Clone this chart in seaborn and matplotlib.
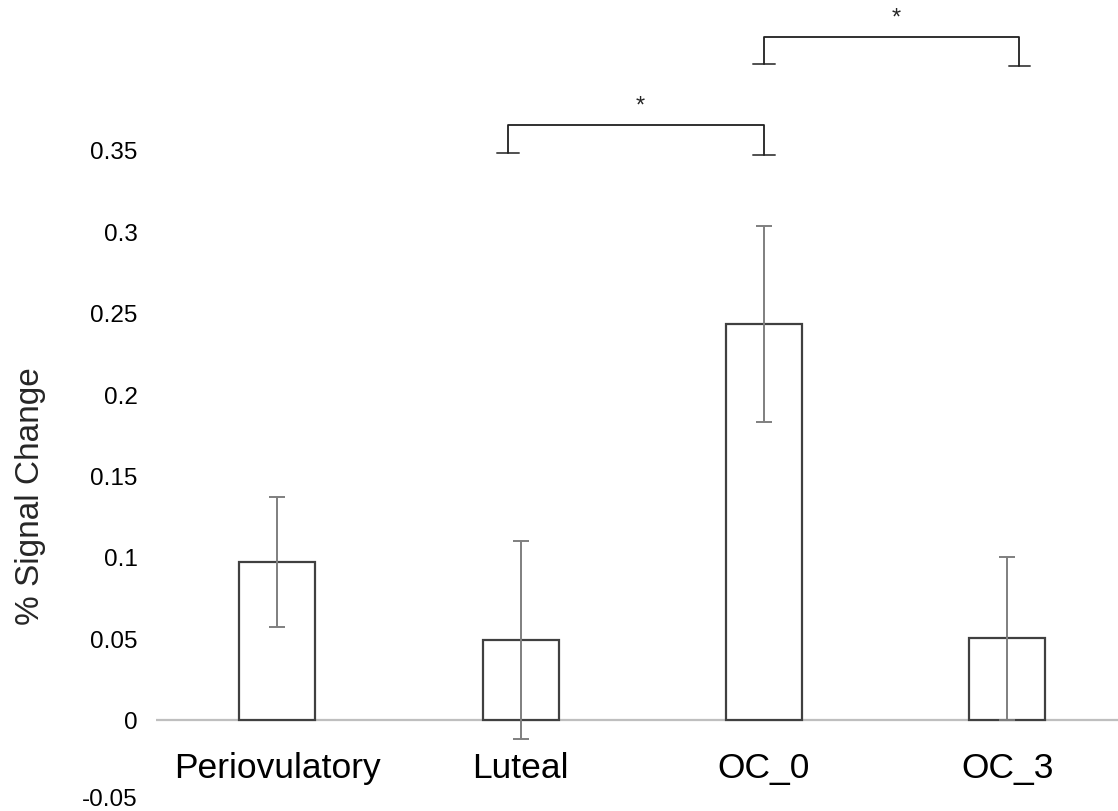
import matplotlib
matplotlib.use("Agg")
import matplotlib.pyplot as plt
import matplotlib.transforms as mtransforms
import seaborn as sns
import numpy as np
import pandas as pd

categories = ["Periovulatory", "Luteal", "OC_0", "OC_3"]
means = [0.097, 0.049, 0.243, 0.050]
errors = [0.040, 0.061, 0.060, 0.050]
yticks = [-0.05, 0, 0.05, 0.1, 0.15, 0.2, 0.25, 0.3, 0.35]
ytick_labels = ["-0.05", "0", "0.05", "0.1", "0.15", "0.2", "0.25", "0.3", "0.35"]
ylabel = "% Signal Change"

# significance brackets: (x_left, x_right, y_bar, y_foot_left, y_foot_right, y_star)
brackets = [
    (0.947, 2.0, 0.3654, 0.3483, 0.347, 0.377),
    (2.0, 3.05, 0.4196, 0.4028, 0.4016, 0.4316),
]
star_text = "*"

sns.set_theme(style="white")
plt.rcParams["font.family"] = ["Liberation Sans", "DejaVu Sans"]

fig = plt.figure(figsize=(11.18, 8.12), dpi=100)
ax = fig.add_axes([155.6 / 1118, (812 - 802) / 812, 973.4 / 1118, 802 / 812])

df = pd.DataFrame({"cat": categories, "val": means})
sns.barplot(data=df, x="cat", y="val", ax=ax, color="white", edgecolor="#404040",
            linewidth=1.6, width=0.312, errorbar=None, zorder=2)

ax.errorbar(np.arange(len(categories)), means, yerr=errors, fmt="none",
            ecolor="#7f7f7f", elinewidth=1.4, capsize=5.5, capthick=1.4, zorder=3)

ax.set_xlim(-0.5, 3.5)
ax.set_ylim(-0.05, 0.4427)
ax.set_yticks(yticks)
ax.set_yticklabels(ytick_labels)
ax.tick_params(axis="y", length=0, pad=13, labelsize=17.5, colors="#000000")
ax.tick_params(axis="x", length=0, pad=-36, labelsize=25.5, colors="#000000")
for s in ["top", "right", "left", "bottom"]:
    ax.spines[s].set_visible(False)
ax.axhline(0, color="#bfbfbf", linewidth=1.6, zorder=1, xmin=0, xmax=1)
ax.set_xlabel("")
ax.set_ylabel(ylabel, fontsize=24)
ax.yaxis.set_label_coords(-0.1126, 0.381)

# nudge the lowest tick label up so it stays inside the figure
lowest = ax.get_yticklabels()[0]
lowest.set_transform(lowest.get_transform() +
                     mtransforms.ScaledTranslation(0, 3 / 72, fig.dpi_scale_trans))

for (xl, xr, yb, yfl, yfr, ys) in brackets:
    ax.plot([xl, xl, xr, xr], [yfl, yb, yb, yfr], color="#202020", lw=1.3,
            clip_on=False, zorder=4)
    fw = 0.045
    ax.plot([xl - fw, xl + fw], [yfl, yfl], color="#505050", lw=1.4, clip_on=False)
    ax.plot([xr - fw, xr + fw], [yfr, yfr], color="#505050", lw=1.4, clip_on=False)
    ax.text((xl + xr) / 2 + 0.02, ys, star_text, ha="center", va="center",
            fontsize=17, clip_on=False)

fig.savefig("out.png", dpi=100)
